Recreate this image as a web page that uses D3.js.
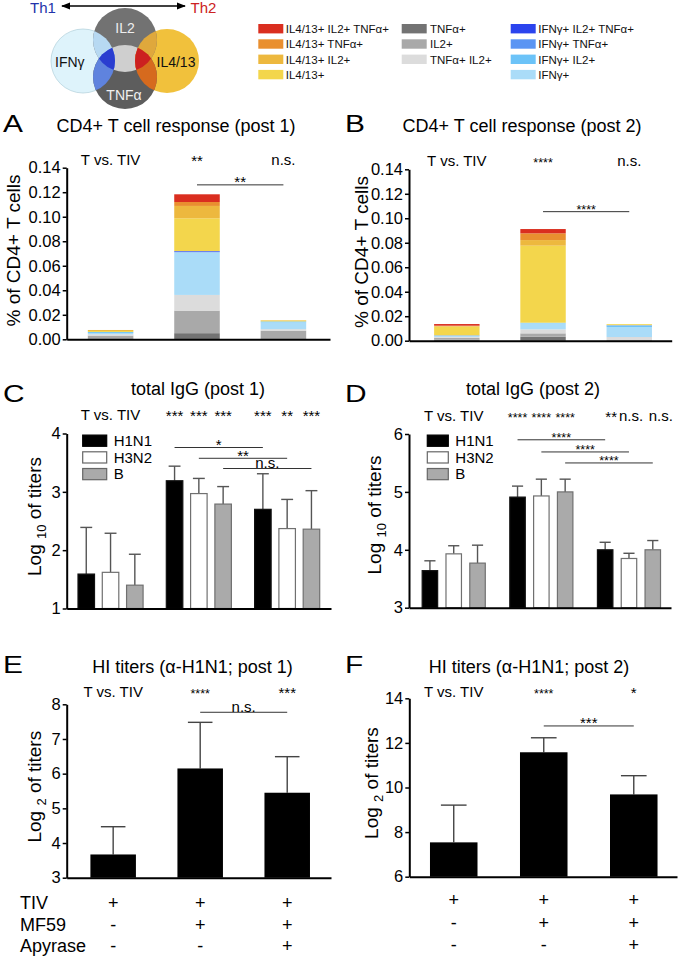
<!DOCTYPE html>
<html><head><meta charset="utf-8">
<script src="https://cdn.jsdelivr.net/npm/d3@7/dist/d3.min.js"></script>
<style>
html,body{margin:0;padding:0;background:#fff;}
svg{display:block;}
</style></head>
<body>
<svg id="fig" width="680" height="958"></svg>
<script>
// ================= DATA =================
const groups = ["TIV", "TIV+MF59", "TIV+MF59+Apyrase"];

// cytokine subsets, stacking order bottom -> top
const subsets = ["TNFα+", "IL2+", "TNFα+ IL2+", "IFNγ+", "IFNγ+ IL2+", "IFNγ+ TNFα+", "IFNγ+ IL2+ TNFα+",
                 "IL4/13+", "IL4/13+ IL2+", "IL4/13+ TNFα+", "IL4/13+ IL2+ TNFα+"];
const subsetColors = ["#737373", "#a9a9a9", "#dcdcdc", "#aadcf8", "#6cc3f8", "#5b95f3", "#2b44ee",
                      "#f3d64c", "#edb83e", "#e98f2f", "#da2e1f"];

// % of CD4+ T cells, post 1 (values per subset, same order as subsets)
const cd4Post1TIV   = [0.0003, 0.0027, 0.0011, 0.0011, 0.0008, 0, 0, 0.0008, 0.0008, 0, 0];
const cd4Post1MF59  = [0.0050, 0.0184, 0.0128, 0.0348, 0, 0.0005, 0.0005, 0.0267, 0.0101, 0.0032, 0.0063];
const cd4Post1Apy   = [0, 0.0070, 0.0013, 0.0055, 0.0008, 0, 0, 0.0007, 0.0003, 0, 0];
// post 2
const cd4Post2TIV   = [0.0008, 0.0015, 0.0008, 0.0008, 0.0002, 0.0003, 0, 0.0071, 0.0005, 0.0003, 0.0013];
const cd4Post2MF59  = [0.0032, 0.0028, 0.0033, 0.0049, 0.0005, 0, 0, 0.0629, 0.0046, 0.0055, 0.0035];
const cd4Post2Apy   = [0, 0.0005, 0.0025, 0.0082, 0.0012, 0.0003, 0, 0.0008, 0, 0, 0];
const cd4Ticks = [0, 0.02, 0.04, 0.06, 0.08, 0.10, 0.12, 0.14];

// legend columns
const legendCol1 = ["IL4/13+ IL2+ TNFα+", "IL4/13+ TNFα+", "IL4/13+ IL2+", "IL4/13+"];
const legendCol2 = ["TNFα+", "IL2+", "TNFα+ IL2+"];
const legendCol3 = ["IFNγ+ IL2+ TNFα+", "IFNγ+ TNFα+", "IFNγ+ IL2+", "IFNγ+"];

// total IgG (log10 titers), rows = groups, cols = strains
const strains = ["H1N1", "H3N2", "B"];
const strainFills = ["#000000", "#ffffff", "#aaaaaa"];
const iggPost1Mean = [[1.59, 1.62, 1.40], [3.19, 2.97, 2.79], [2.70, 2.37, 2.36]];
const iggPost1SD   = [[0.80, 0.67, 0.53], [0.25, 0.26, 0.30], [0.61, 0.50, 0.66]];
const iggPost2Mean = [[3.64, 3.93, 3.77], [4.91, 4.93, 5.00], [4.00, 3.85, 4.00]];
const iggPost2SD   = [[0.17, 0.14, 0.31], [0.19, 0.29, 0.22], [0.13, 0.09, 0.16]];
const igg1Ticks = [1, 2, 3, 4];
const igg2Ticks = [3, 4, 5, 6];

// HI titers (log2)
const hiPost1Mean = [3.67, 6.15, 5.45];
const hiPost1SD   = [0.80, 1.33, 1.04];
const hiPost2Mean = [7.54, 11.58, 9.69];
const hiPost2SD   = [1.67, 0.65, 0.84];
const hi1Ticks = [3, 4, 5, 6, 7, 8];
const hi2Ticks = [6, 8, 10, 12, 14];

// significance annotations
const cd4Post1Header = ["T vs. TIV", "**", "n.s."];
const cd4Post2Header = ["T vs. TIV", "****", "n.s."];
const cd4Post1Bracket = {from: 1, to: 2, level: 0.126, label: "**"};
const cd4Post2Bracket = {from: 1, to: 2, level: 0.1054, label: "****"};
const igg1Stars = [[], ["***", "***", "***"], ["***", "**", "***"]];
const igg2Stars = [[], ["****", "****", "****"], ["**", "n.s.", "n.s."]];
const igg1Brackets = [{strain: 0, level: 3.76, label: "*"}, {strain: 1, level: 3.575, label: "**"}, {strain: 2, level: 3.40, label: "n.s."}];
const igg2Brackets = [{strain: 0, level: 5.90, label: "****"}, {strain: 1, level: 5.69, label: "****"}, {strain: 2, level: 5.50, label: "****"}];
const hi1Header = ["T vs. TIV", "****", "***"];
const hi2Header = ["T vs. TIV", "****", "*"];
const hi1Bracket = {from: 1, to: 2, level: 7.77, label: "n.s."};
const hi2Bracket = {from: 1, to: 2, level: 12.76, label: "***"};
const rowLabels = ["TIV", "MF59", "Apyrase"];
const rowSigns = [["+", "+", "+"], ["-", "+", "+"], ["-", "-", "+"]];

// ================= DRAWING =================
const FONT = "'Liberation Sans', Arial, Helvetica, sans-serif";
const svg = d3.select("#fig").attr("font-family", FONT);
const defs = svg.append("defs");
const isStar = s => s.indexOf("*") >= 0;
const labelFs = s => isStar(s) ? (s.length >= 4 ? 12.5 : 15) : 15;

function txt(g, x, y, s, size, anchor = "middle", fill = "#000") {
  return g.append("text").attr("x", x).attr("y", y).attr("font-size", size)
    .attr("text-anchor", anchor).attr("fill", fill).text(s);
}
function panelLetter(x, y, L) {
  svg.append("text").attr("transform", `translate(${x},${y}) scale(1.3,1)`)
    .attr("font-size", 23).attr("fill", "#000").text(L);
}
function yAxis(x0, y, ticks, fmt, fs) {
  const ax = d3.axisLeft(y).tickValues(ticks).tickFormat(fmt).tickSize(4).tickPadding(2).tickSizeOuter(0);
  const g = svg.append("g").attr("transform", `translate(${x0},0)`).call(ax)
    .attr("font-family", FONT).attr("font-size", fs);
  g.select(".domain").attr("stroke", "#000").attr("stroke-width", 2);
  g.selectAll(".tick line").attr("stroke", "#000").attr("stroke-width", 1.5);
  g.selectAll(".tick text").attr("fill", "#000");
}
function xAxis(x, yPos) {
  const ax = d3.axisBottom(x).tickValues([]).tickSizeOuter(0);
  const g = svg.append("g").attr("transform", `translate(0,${yPos})`).call(ax);
  g.select(".domain").attr("stroke", "#000").attr("stroke-width", 2);
}
function yLabel(bx, cy, parts, fs) {
  const t = svg.append("text").attr("transform", `translate(${bx},${cy}) rotate(-90)`)
    .attr("text-anchor", "middle").attr("font-size", fs).attr("fill", "#000");
  parts.forEach(p => {
    const s = t.append("tspan").text(p.t);
    if (p.sub) s.attr("font-size", fs * 0.68).attr("dy", 5);
    if (p.back) s.attr("dy", -5);
  });
}
function bracket(x1, x2, yv, label) {
  svg.append("line").attr("x1", x1).attr("x2", x2).attr("y1", yv).attr("y2", yv)
    .attr("stroke", "#333").attr("stroke-width", 1);
  txt(svg, (x1 + x2) / 2, isStar(label) ? yv + 2.5 : yv - 0.5, label, labelFs(label));
}
function header(xs, yb, labels) {
  labels.forEach((l, i) => {
    txt(svg, xs[i], yb + (isStar(l) ? 1 : 0), l, labelFs(l));
  });
}

// ---------- Venn schematic ----------
const venn = {
  ifn: {cx: 83, cy: 61, r: 32},
  il2: {cx: 125, cy: 40, r: 32},
  il4: {cx: 167, cy: 61, r: 32},
  tnf: {cx: 125, cy: 77, r: 32}
};
Object.entries(venn).forEach(([k, c]) => {
  defs.append("clipPath").attr("id", "clip-" + k).append("circle")
    .attr("cx", c.cx).attr("cy", c.cy).attr("r", c.r);
});
function circ(g, c, fill, stroke) {
  return g.append("circle").attr("cx", c.cx).attr("cy", c.cy).attr("r", c.r)
    .attr("fill", fill).attr("stroke", stroke || "none").attr("stroke-width", 0.8);
}
const vg = svg.append("g");
circ(vg, venn.ifn, "#def3fb", "#b8d4de");
circ(vg, venn.il4, "#f1c13c");
circ(vg, venn.il2, "#727272");
circ(vg, venn.tnf, "#5d5d5d");
circ(vg.append("g").attr("clip-path", "url(#clip-il2)"), venn.tnf, "#cfcfcf");
const gIfn = vg.append("g").attr("clip-path", "url(#clip-ifn)");
circ(gIfn, venn.il2, "#b7d9f2");
circ(gIfn, venn.tnf, "#5f83de");
circ(gIfn.append("g").attr("clip-path", "url(#clip-il2)"), venn.tnf, "#2a3dd0");
const gIl4 = vg.append("g").attr("clip-path", "url(#clip-il4)");
circ(gIl4, venn.il2, "#dfa83c");
circ(gIl4, venn.tnf, "#d66a1e");
circ(gIl4.append("g").attr("clip-path", "url(#clip-il2)"), venn.tnf, "#cc2020");
txt(vg, 125, 33, "IL2", 14, "middle", "#eeeeee");
txt(vg, 55, 66.7, "IFNγ", 14, "start", "#111");
txt(vg, 156.5, 66.7, "IL4/13", 14, "start", "#111");
txt(vg, 124, 100, "TNFα", 14, "middle", "#f0f0f0");

// Th1 / Th2 arrow
defs.append("marker").attr("id", "ah").attr("viewBox", "0 0 10 10").attr("refX", 9).attr("refY", 5)
  .attr("markerWidth", 7).attr("markerHeight", 7).attr("orient", "auto-start-reverse")
  .append("path").attr("d", "M0,1 L10,5 L0,9 Z").attr("fill", "#000");
svg.append("line").attr("x1", 62).attr("x2", 185).attr("y1", 6).attr("y2", 6)
  .attr("stroke", "#000").attr("stroke-width", 1.3)
  .attr("marker-start", "url(#ah)").attr("marker-end", "url(#ah)");
txt(svg, 30, 13.3, "Th1", 15, "start", "#2233aa");
txt(svg, 190.5, 13.3, "Th2", 15, "start", "#cc2222");

// ---------- Cytokine legend ----------
const legendCols = [legendCol1, legendCol2, legendCol3];
const legSwX = [258.3, 401.7, 510.7];
const legTxX = [285.7, 430, 538.3];
legendCols.forEach((col, ci) => {
  col.forEach((name, ri) => {
    const cy = 28.7 + ri * 15.3;
    svg.append("rect").attr("x", legSwX[ci]).attr("y", cy - 4.7).attr("width", 25).attr("height", 9.4)
      .attr("fill", subsetColors[subsets.indexOf(name)]);
    txt(svg, legTxX[ci], cy + 4.2, name, 11.5, "start", "#111");
  });
});

// ---------- Panels A & B (stacked) ----------
function cd4Panel(cfg) {
  const y = d3.scaleLinear().domain([0, 0.14]).range([cfg.yBot, cfg.yTop]);
  const x = d3.scaleBand().domain(groups).range([cfg.x0, cfg.x1])
    .paddingInner(0.473).paddingOuter(0.26).align(cfg.align);
  const rows = groups.map((gname, i) => {
    const o = {group: gname};
    subsets.forEach((s, j) => { o[s] = cfg.values[i][j]; });
    return o;
  });
  const series = d3.stack().keys(subsets)(rows);
  svg.append("g").selectAll("g").data(series).join("g")
    .attr("fill", (d, i) => subsetColors[i])
    .selectAll("rect").data(d => d).join("rect")
    .attr("x", d => x(d.data.group)).attr("width", x.bandwidth())
    .attr("y", d => y(d[1])).attr("height", d => Math.max(0, y(d[0]) - y(d[1])));
  xAxis(x, cfg.yBot);
  yAxis(cfg.x0, y, cd4Ticks, d3.format(".2f"), 16.5);
  const cx = groups.map(gn => x(gn) + x.bandwidth() / 2);
  header(cx, cfg.hdrY, cfg.header);
  const b = cfg.bracket;
  bracket(cx[b.from], cx[b.to], y(b.level), b.label);
  txt(svg, cfg.titleX, cfg.titleY, cfg.title, 18);
  panelLetter(cfg.letterX, cfg.titleY, cfg.letter);
  yLabel(cfg.labelX, (cfg.yTop + cfg.yBot) / 2 - 3, [{t: "% of CD4+ T cells"}], 19);
}
cd4Panel({x0: 66.7, x1: 330, yTop: 167.7, yBot: 339.3, align: 0.47,
  values: [cd4Post1TIV, cd4Post1MF59, cd4Post1Apy], header: cd4Post1Header, hdrY: 165,
  bracket: cd4Post1Bracket, title: "CD4+ T cell response (post 1)", titleX: 176, titleY: 131.7,
  letter: "A", letterX: 3, labelX: 20});
cd4Panel({x0: 409, x1: 671.7, yTop: 169.3, yBot: 340.7, align: 0.56,
  values: [cd4Post2TIV, cd4Post2MF59, cd4Post2Apy], header: cd4Post2Header, hdrY: 166,
  bracket: cd4Post2Bracket, title: "CD4+ T cell response (post 2)", titleX: 522, titleY: 131.7,
  letter: "B", letterX: 345, labelX: 367.5});

// ---------- Panels C & D (grouped) ----------
function iggPanel(cfg) {
  const y = d3.scaleLinear().domain(cfg.domain).range([cfg.yBot, cfg.yTop]);
  const x = d3.scaleBand().domain(groups).range([cfg.x0, cfg.x1])
    .paddingInner(cfg.pi).paddingOuter(cfg.po).align(cfg.align);
  const xs = d3.scaleBand().domain(strains).range([0, x.bandwidth()]).paddingInner(cfg.spi).paddingOuter(0);
  const bw = xs.bandwidth();
  const barCx = (gi, si) => x(groups[gi]) + xs(strains[si]) + bw / 2;
  const data = [];
  groups.forEach((gn, gi) => strains.forEach((s, si) =>
    data.push({gi, si, m: cfg.mean[gi][si], sd: cfg.sd[gi][si]})));
  // error bars (upper only)
  const eg = svg.append("g").attr("stroke", "#555").attr("stroke-width", 1.4);
  data.forEach(d => {
    const cx = barCx(d.gi, d.si);
    eg.append("line").attr("x1", cx).attr("x2", cx).attr("y1", y(d.m)).attr("y2", y(d.m + d.sd));
    eg.append("line").attr("x1", cx - bw * 0.36).attr("x2", cx + bw * 0.36)
      .attr("y1", y(d.m + d.sd)).attr("y2", y(d.m + d.sd));
  });
  svg.append("g").selectAll("rect").data(data).join("rect")
    .attr("x", d => barCx(d.gi, d.si) - bw / 2).attr("width", bw)
    .attr("y", d => y(d.m)).attr("height", d => y(cfg.domain[0]) - y(d.m))
    .attr("fill", d => strainFills[d.si]).attr("stroke", d => d.si === 0 ? "#111" : "#707070")
    .attr("stroke-width", 1.2);
  xAxis(x, cfg.yBot);
  yAxis(cfg.x0, y, cfg.ticks, d3.format("d"), 16.5);
  // header
  txt(svg, x(groups[0]) + x.bandwidth() / 2, cfg.hdrY, "T vs. TIV", 15);
  cfg.stars.forEach((row, gi) => row.forEach((s, si) => {
    const dx = cfg.starDx && gi === 2 ? cfg.starDx[si] : 0;
    txt(svg, barCx(gi, si) + dx, cfg.hdrY + (isStar(s) ? 1 : 0), s, labelFs(s));
  }));
  cfg.brackets.forEach(b => bracket(barCx(1, b.strain), barCx(2, b.strain), y(b.level), b.label));
  // legend
  strains.forEach((s, si) => {
    const cy = cfg.legY0 + si * 16.7;
    svg.append("rect").attr("x", cfg.legX).attr("y", cy - 5.6).attr("width", cfg.legW).attr("height", 11.2)
      .attr("fill", strainFills[si]).attr("stroke", si === 0 ? "#000" : "#666").attr("stroke-width", 1.2);
    txt(svg, cfg.legX + cfg.legW + 7, cy + 5.2, s, 15, "start");
  });
  txt(svg, cfg.titleX, cfg.titleY, cfg.title, 18);
  panelLetter(cfg.letterX, cfg.titleY + 6.5, cfg.letter);
  yLabel(cfg.labelX, cfg.labelY, [{t: "Log "}, {t: "10", sub: true}, {t: " of titers", back: true}], 19);
}
iggPanel({x0: 66.7, x1: 331, yTop: 433.5, yBot: 608.5, domain: [1, 4], ticks: igg1Ticks,
  pi: 0.263, po: 0.128, align: 0.5, spi: 0.32, mean: iggPost1Mean, sd: iggPost1SD,
  stars: igg1Stars, brackets: igg1Brackets, hdrY: 420, legX: 82.7, legW: 24, legY0: 440.7,
  title: "total IgG (post 1)", titleX: 198, titleY: 395, letter: "C", letterX: 3,
  labelX: 41, labelY: 516.5});
iggPanel({x0: 409, x1: 671, yTop: 434, yBot: 607.7, domain: [3, 6], ticks: igg2Ticks,
  pi: 0.28, po: 0.135, align: 0.557, spi: 0.35, mean: iggPost2Mean, sd: iggPost2SD,
  stars: igg2Stars, starDx: [6, 2, 8], brackets: igg2Brackets, hdrY: 421, legX: 427.3, legW: 21, legY0: 440.7,
  title: "total IgG (post 2)", titleX: 533, titleY: 395, letter: "D", letterX: 345,
  labelX: 381, labelY: 515});

// ---------- Panels E & F (HI titers) ----------
function hiPanel(cfg) {
  const y = d3.scaleLinear().domain(cfg.domain).range([cfg.yBot, cfg.yTop]);
  const x = d3.scaleBand().domain(groups).range([cfg.x0, cfg.x1])
    .paddingInner(cfg.pi).paddingOuter(cfg.po).align(cfg.align);
  const bw = x.bandwidth();
  const cx = groups.map(gn => x(gn) + bw / 2);
  const eg = svg.append("g").attr("stroke", "#444").attr("stroke-width", 1.4);
  groups.forEach((gn, i) => {
    const top = y(cfg.mean[i] + cfg.sd[i]);
    eg.append("line").attr("x1", cx[i]).attr("x2", cx[i]).attr("y1", y(cfg.mean[i])).attr("y2", top);
    eg.append("line").attr("x1", cx[i] - bw * 0.27).attr("x2", cx[i] + bw * 0.27).attr("y1", top).attr("y2", top);
  });
  svg.append("g").selectAll("rect").data(groups).join("rect")
    .attr("x", d => x(d)).attr("width", bw)
    .attr("y", (d, i) => y(cfg.mean[i])).attr("height", (d, i) => y(cfg.domain[0]) - y(cfg.mean[i]))
    .attr("fill", "#000");
  xAxis(x, cfg.yBot);
  yAxis(cfg.x0, y, cfg.ticks, d3.format("d"), 16.5);
  header(cx, cfg.hdrY, cfg.header);
  const b = cfg.bracket;
  bracket(cx[b.from], cx[b.to], y(b.level), b.label);
  // rows of +/-
  rowSigns.forEach((row, ri) => {
    if (cfg.rowLabels) txt(svg, 20, cfg.rowY[ri], rowLabels[ri], 18, "start");
    row.forEach((s, gi) => txt(svg, cx[gi], cfg.rowY[ri], s, 18));
  });
  txt(svg, cfg.titleX, cfg.titleY, cfg.title, 18);
  panelLetter(cfg.letterX, cfg.titleY, cfg.letter);
  yLabel(cfg.labelX, cfg.labelY, [{t: "Log "}, {t: "2", sub: true}, {t: " of titers", back: true}], 19);
}
hiPanel({x0: 66.7, x1: 331, yTop: 704.3, yBot: 877.7, domain: [3, 8], ticks: hi1Ticks,
  pi: 0.477, po: 0.257, align: 0.53, mean: hiPost1Mean, sd: hiPost1SD,
  header: hi1Header, hdrY: 697, bracket: hi1Bracket, rowLabels: true, rowY: [909, 931, 952],
  title: "HI titers (α-H1N1; post 1)", titleX: 192.5, titleY: 673.3, letter: "E", letterX: 3,
  labelX: 41, labelY: 786.7});
hiPanel({x0: 409.3, x1: 677, yTop: 698.3, yBot: 876.7, domain: [6, 14], ticks: hi2Ticks,
  pi: 0.472, po: 0.223, align: 0.515, mean: hiPost2Mean, sd: hiPost2SD,
  header: hi2Header, hdrY: 697, bracket: hi2Bracket, rowLabels: false, rowY: [906, 929, 951],
  title: "HI titers (α-H1N1; post 2)", titleX: 529, titleY: 673.3, letter: "F", letterX: 345,
  labelX: 378, labelY: 783});
</script>
</body></html>
